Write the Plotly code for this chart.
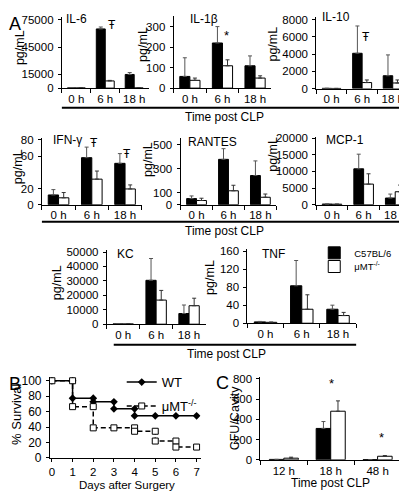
import plotly.graph_objects as go

W, H = 407, 491
FONT = "Arial, 'Liberation Sans', sans-serif"

# ---------------- data ----------------
cats_A = ["0 h", "6 h", "18 h"]

il6_b = [150, 65000, 15000]
il6_b_err = [0, 2100, 2100]
il6_w = [100, 7900, 100]
il6_w_err = [0, 600, 0]

il1b_b = [57, 220, 109]
il1b_b_err = [91, 80, 48]
il1b_w = [38, 109, 49]
il1b_w_err = [11, 29, 11]

il10_b = [30, 4090, 1490]
il10_b_err = [0, 3160, 2410]
il10_w = [20, 700, 650]
il10_w_err = [0, 300, 350]

ifn_b = [12, 58, 51]
ifn_b_err = [6.6, 13, 12]
ifn_w = [8.5, 31.5, 19.4]
ifn_w_err = [6.5, 10, 5]

rantes_b = [51, 378, 243]
rantes_b_err = [22, 89, 122]
rantes_w = [35, 116, 62]
rantes_w_err = [19, 46, 27]

mcp1_b = [200, 10800, 2000]
mcp1_b_err = [0, 4400, 1200]
mcp1_w = [150, 6200, 3900]
mcp1_w_err = [0, 3100, 2000]

kc_b = [200, 30400, 7400]
kc_b_err = [0, 15100, 5900]
kc_w = [150, 16700, 12800]
kc_w_err = [0, 6700, 5200]

tnf_b = [3, 83, 31]
tnf_b_err = [1, 56, 9]
tnf_w = [2, 31, 17]
tnf_w_err = [0.5, 32, 7]

cats_C = ["12 h", "18 h", "48 h"]
cfu_b = [4, 310, 3]
cfu_b_err = [0, 68, 0]
cfu_w = [16, 480, 35]
cfu_w_err = [10, 102, 7]

wt_days = [0, 1, 1, 2, 2, 3, 3, 4, 4, 5, 6, 7]
wt_surv = [100, 100, 77.3, 77.3, 72.7, 72.7, 63.6, 63.6, 54.5, 54.5, 54.5, 54.5]
mu_days = [0, 1, 1, 2, 2, 3, 4, 4, 5, 5, 6, 6, 7]
mu_surv = [100, 100, 66.4, 66.4, 38.9, 38.9, 38.9, 34.5, 34.5, 21.8, 21.8, 14, 14]

# ---------------- helpers ----------------
def px(x):
    return x / W

def py(y):
    return 1 - y / H

fig = go.Figure()
layout = {}
annotations = []
shapes = []

def axkeys(n):
    return ("x" if n == 1 else f"x{n}", "y" if n == 1 else f"y{n}",
            "xaxis" if n == 1 else f"xaxis{n}", "yaxis" if n == 1 else f"yaxis{n}")

tickfont = dict(family=FONT, size=11.5, color="black")

def bar_panel(n, cats, b, be, w, we, x0, x1, yb, yt, ymax, tickvals, legend=False):
    xa, ya, xk, yk = axkeys(n)
    fig.add_trace(go.Bar(
        x=cats, y=b, xaxis=xa, yaxis=ya, name="C57BL/6", showlegend=legend,
        legend="legend",
        marker=dict(color="black", line=dict(color="black", width=1)),
        error_y=dict(type="data", array=be, arrayminus=[0] * len(be), symmetric=False,
                     color="#555", thickness=1, width=2)))
    fig.add_trace(go.Bar(
        x=cats, y=w, xaxis=xa, yaxis=ya, name="μMT<sup>-/-</sup>", showlegend=legend,
        legend="legend3",
        marker=dict(color="white", line=dict(color="black", width=1)),
        error_y=dict(type="data", array=we, arrayminus=[0] * len(we), symmetric=False,
                     color="#333", thickness=1, width=2)))
    layout[xk] = dict(domain=[px(x0), px(x1)], anchor=ya, type="category",
                      tickson="boundaries", ticks="outside", ticklen=4, tickcolor="black",
                      tickangle=0,
                      showline=True, linecolor="black", linewidth=1, showgrid=False,
                      zeroline=False, tickfont=tickfont, fixedrange=True)
    layout[yk] = dict(domain=[py(yb), py(yt)], anchor=xa, range=[0, ymax],
                      tickvals=tickvals, tickformat="d", ticks="outside", ticklen=3,
                      tickcolor="black",
                      showline=True, linecolor="black", linewidth=1, showgrid=False,
                      zeroline=False, tickfont=tickfont, ticklabelstandoff=2)

bar_panel(1, cats_A, il6_b, il6_b_err, il6_w, il6_w_err, 53, 140, 77, 4, 78200, [0, 15000, 45000, 75000])
bar_panel(2, cats_A, il1b_b, il1b_b_err, il1b_w, il1b_w_err, 165, 263, 77, 3, 352, [0, 100, 200, 300])
bar_panel(3, cats_A, il10_b, il10_b_err, il10_w, il10_w_err, 308, 400, 77.5, 4, 8300, [0, 2000, 4000, 6000, 8000])
bar_panel(4, cats_A, ifn_b, ifn_b_err, ifn_w, ifn_w_err, 33, 133, 196.5, 128, 82.4, [0, 20, 60, 80])
bar_panel(5, cats_A, rantes_b, rantes_b_err, rantes_w, rantes_w_err, 172, 268, 196.5, 128, 557, [0, 100, 300, 500])
bar_panel(6, cats_A, mcp1_b, mcp1_b_err, mcp1_w, mcp1_w_err, 308, 403, 196.5, 127, 20400, [0, 5000, 10000, 15000, 20000])
bar_panel(7, cats_A, kc_b, kc_b_err, kc_w, kc_w_err, 98, 197, 319, 243, 51350, [0, 10000, 20000, 30000, 40000, 50000])
bar_panel(8, cats_A, tnf_b, tnf_b_err, tnf_w, tnf_w_err, 239, 348, 318, 242, 164.3, [0, 40, 80, 120, 160], legend=True)
bar_panel(10, cats_C, cfu_b, cfu_b_err, cfu_w, cfu_w_err, 252, 393, 458, 373, 819, [0, 200, 400, 600, 800])

# ---------------- survival panel B ----------------
fig.add_trace(go.Scatter(
    x=wt_days, y=wt_surv, xaxis="x9", yaxis="y9", name="WT", mode="lines+markers",
    line=dict(color="black", width=1.5), marker=dict(symbol="diamond", size=6, color="black"),
    legend="legend2", legendgroup="wt"))
fig.add_trace(go.Scatter(
    x=mu_days, y=mu_surv, xaxis="x9", yaxis="y9", name="μMT<sup>-/-</sup>", mode="lines+markers",
    line=dict(color="black", width=1.5, dash="5px,3px"),
    marker=dict(symbol="square", size=6, color="white", line=dict(color="black", width=1)),
    legend="legend2", legendgroup="mu"))
layout["xaxis9"] = dict(domain=[px(41), px(192)], anchor="y9", range=[-0.097, 7.19],
                        tickvals=list(range(8)), ticks="outside", ticklen=3, tickcolor="black",
                        showline=True, linecolor="black", showgrid=False, zeroline=False,
                        tickfont=dict(family=FONT, size=11.5, color="black"))
layout["yaxis9"] = dict(domain=[py(456), py(373)], anchor="x9", range=[0, 105],
                        tickvals=[0, 20, 40, 60, 80, 100], ticks="outside", ticklen=3,
                        tickcolor="black", showline=True, linecolor="black", showgrid=False,
                        zeroline=False, tickfont=dict(family=FONT, size=12, color="black"),
                        ticklabelstandoff=2)

# ---------------- texts ----------------
def ann(x, y, text, size=12, xanchor="center", angle=0):
    annotations.append(dict(x=px(x), y=py(y), xref="paper", yref="paper", text=text,
                            showarrow=False, xanchor=xanchor, yanchor="middle",
                            textangle=angle, font=dict(family=FONT, size=size, color="black")))

# panel letters
ann(6, 11, "A", 18)
ann(6, 380, "B", 18)
ann(214, 379, "C", 18)

# titles inside panels
ann(55, 6, "IL-6", 12, "left")
ann(179, 6, "IL-1β", 12, "left")
ann(312, 4, "IL-10", 12, "left")
ann(42, 130, "IFN-γ", 12, "left")
ann(177, 132, "RANTES", 12, "left")
ann(316, 130, "MCP-1", 12, "left")
ann(106, 247, "KC", 12, "left")
ann(252, 247, "TNF", 12, "left")

# y titles
for (x, y) in [(11, 35), (135, 32), (265, 32), (9, 157), (140, 150), (265, 145), (48, 276), (202, 271)]:
    ann(x, y, "pg/mL", 12.5, angle=-90)
ann(8, 411, "% Survival", 13, angle=-90)
ann(226, 415, "CFU/Cavity", 12.5, angle=-90)

# x titles
ann(216, 107, "Time post CLP", 12)
ann(216, 223, "Time post CLP", 12)
ann(218, 350, "Time post CLP", 12)
ann(118, 484, "Days after Surgery", 11.5)
ann(322, 482, "Time post CLP", 12)

# significance marks
ann(103, 12, "Ŧ", 12)
ann(218, 23, "*", 13)
ann(358, 25, "Ŧ", 12)
ann(85, 133, "Ŧ", 12)
ann(118, 145, "Ŧ", 12)
ann(323, 380, "*", 13)
ann(373, 435, "*", 13)

# row underline bars
for (x0, x1, y) in [(53, 402, 97), (33, 403, 214), (105, 348, 340)]:
    shapes.append(dict(type="line", xref="paper", yref="paper", x0=px(x0), x1=px(x1),
                       y0=py(y), y1=py(y), line=dict(color="black", width=2)))

legfont = dict(family=FONT, size=9.5, color="black")
fig.update_layout(
    **layout,
    width=W, height=H, margin=dict(l=0, r=0, t=0, b=0),
    paper_bgcolor="white", plot_bgcolor="white",
    barmode="group", bargap=0.38, bargroupgap=0,
    annotations=annotations, shapes=shapes,
    font=dict(family=FONT, size=12, color="black"),
    legend=dict(x=px(306), y=py(231), xanchor="left", yanchor="top",
                font=legfont, bgcolor="rgba(0,0,0,0)", itemwidth=30),
    legend3=dict(x=px(306), y=py(245), xanchor="left", yanchor="top",
                 font=legfont, bgcolor="rgba(0,0,0,0)", itemwidth=30),
    legend2=dict(x=px(113), y=py(363), xanchor="left", yanchor="top",
                 font=dict(family=FONT, size=13, color="black"), bgcolor="rgba(0,0,0,0)",
                 itemwidth=30, traceorder="grouped", tracegroupgap=4),
)

fig.write_html("out.html")
